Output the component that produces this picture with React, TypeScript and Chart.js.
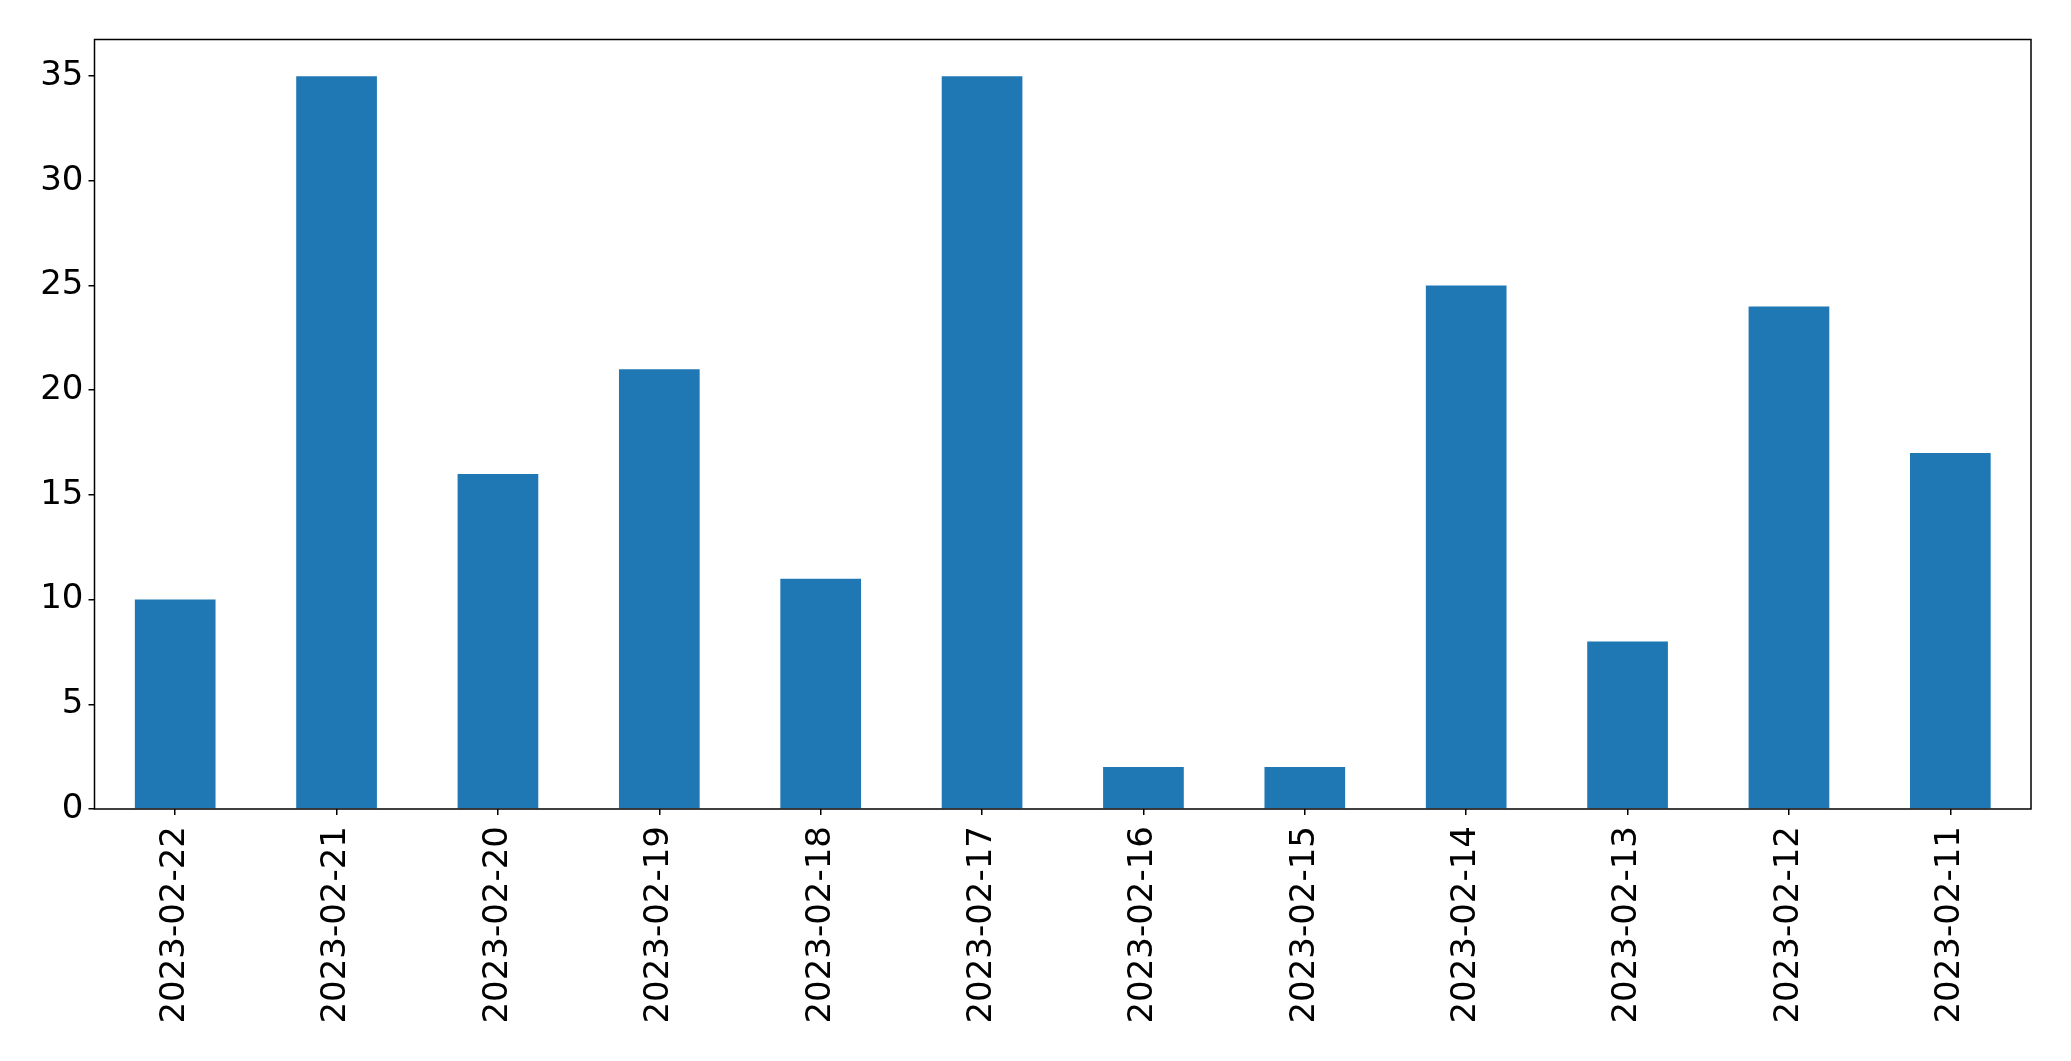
import React, { useEffect, useRef } from "react";
import { Chart, registerables } from "chart.js";

Chart.register(...registerables);

const categories = [
  "2023-02-22", "2023-02-21", "2023-02-20", "2023-02-19", "2023-02-18", "2023-02-17",
  "2023-02-16", "2023-02-15", "2023-02-14", "2023-02-13", "2023-02-12", "2023-02-11",
];
const counts = [10, 35, 16, 21, 11, 35, 2, 2, 25, 8, 24, 17];
const yMax = 36.75;
const yStep = 5;

const W = 2071;
const H = 1061;
const FONT = "'DejaVu Sans', sans-serif";

const framePlugin = {
  id: "frame",
  afterDraw(chart: any) {
    const { ctx, chartArea } = chart;
    ctx.save();
    ctx.strokeStyle = "#000";
    ctx.lineWidth = 1.5;
    ctx.strokeRect(chartArea.left, chartArea.top, chartArea.right - chartArea.left, chartArea.bottom - chartArea.top);
    ctx.restore();
  },
};

export default function App() {
  const ref = useRef<HTMLCanvasElement | null>(null);
  useEffect(() => {
    document.body.style.margin = "0";
    const chart = new Chart(ref.current as HTMLCanvasElement, {
      type: "bar",
      data: {
        labels: categories,
        datasets: [
          {
            data: counts,
            backgroundColor: "#1f77b4",
            borderWidth: 0,
            categoryPercentage: 1,
            barPercentage: 0.5,
          },
        ],
      },
      options: {
        responsive: false,
        animation: false,
        devicePixelRatio: 1,
        layout: { padding: { left: 0, top: 39.5, right: 40, bottom: 0 } },
        plugins: { legend: { display: false }, tooltip: { enabled: false } },
        scales: {
          x: {
            offset: true,
            grid: { display: true, drawOnChartArea: false, offset: false, tickLength: 6, color: "#000", lineWidth: 1.5 },
            border: { display: false },
            ticks: {
              color: "#000",
              font: { family: FONT, size: 34 },
              maxRotation: 90,
              minRotation: 90,
              autoSkip: false,
              padding: 11,
            },
            afterFit(scale: any) {
              scale.height = H - 809;
            },
          },
          y: {
            min: 0,
            max: yMax,
            grid: { display: true, drawOnChartArea: false, tickLength: 6, color: "#000", lineWidth: 1.5 },
            border: { display: false },
            ticks: {
              stepSize: yStep,
              includeBounds: false,
              color: "#000",
              font: { family: FONT, size: 34 },
              padding: 5,
            },
            afterFit(scale: any) {
              scale.width = 94.5;
            },
          },
        },
      },
      plugins: [framePlugin],
    });
    return () => chart.destroy();
  }, []);
  return (
    <div style={{ position: "absolute", left: 0, top: 0, width: W, height: H, background: "#fff" }}>
      <canvas ref={ref} width={W} height={H} style={{ display: "block" }} />
    </div>
  );
}
